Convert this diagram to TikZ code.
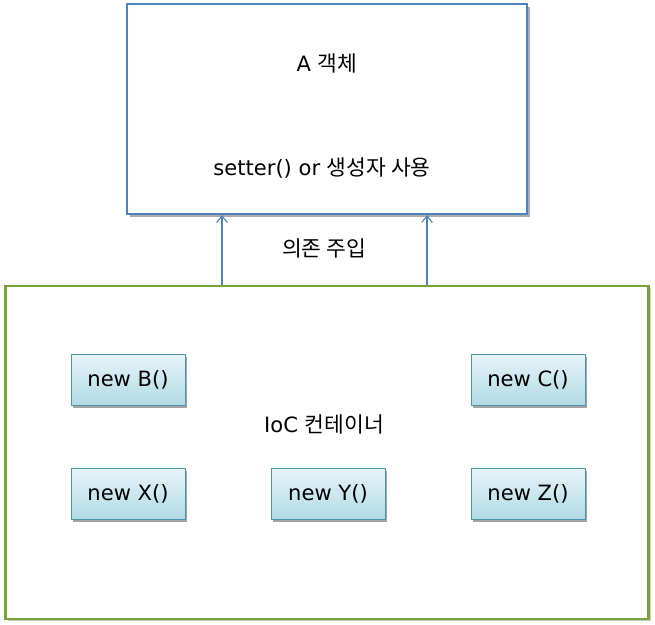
\documentclass[tikz,border=0pt]{standalone}
\usepackage{fontspec}
\setmainfont{DejaVu Sans}
\newfontfamily\kr[Scale=1.02]{Noto Sans CJK KR}
\usetikzlibrary{arrows.meta,positioning,shadows}
\definecolor{objblue}{RGB}{79,129,189}
\definecolor{iocgreen}{RGB}{119,163,58}
\definecolor{beanedge}{RGB}{72,150,168}
\definecolor{beantop}{RGB}{230,244,248}
\definecolor{beanbot}{RGB}{178,219,229}

\begin{document}
\begin{tikzpicture}[
  x=0.75pt, y=-0.75pt,
  every node/.style={font=\fontsize{15.8}{19}\selectfont},
  bean/.style={
    draw=beanedge,
    top color=beantop,
    bottom color=beanbot,
    minimum width=85.5pt,
    minimum height=38.25pt,
    drop shadow={shadow xshift=1.5pt, shadow yshift=-2pt, fill=black!60, opacity=0.6}
  },
  inject/.style={-{Straight Barb[length=5pt,width=8pt]}, draw=objblue, line width=0.8pt}
]
\useasboundingbox (0,0) rectangle (655,624);

% A 객체
\node[
  draw=objblue,
  line width=1.6pt,
  fill=white,
  minimum width=300pt,
  minimum height=157.5pt,
  drop shadow={shadow xshift=2pt, shadow yshift=-2.5pt, fill=black!55, opacity=0.6}
] (aobj) at (327,109) {};
\node (atitle) at (327,63) {A {\kr 객체}};
\node (asetter) at (322,168) {setter() or {\kr 생성자 사용}};

% IoC 컨테이너
\node[
  draw=iocgreen,
  line width=1.8pt,
  fill=white,
  minimum width=482.25pt,
  minimum height=249.75pt,
  below=52.5pt of aobj,
  drop shadow={shadow xshift=1.5pt, shadow yshift=-1.5pt, fill=black!40, opacity=0.5}
] (ioc) {};
\node (ioctitle) at (324,424) {IoC {\kr 컨테이너}};

% 빈 객체
\node[bean] (newb) at (128,379.5) {new B()};
\node[bean] (newc) at (528,379.5) {new C()};
\node[bean] (newx) at (128,493.5) {new X()};
\node[bean] (newy) at (328,493.5) {new Y()};
\node[bean] (newz) at (528,493.5) {new Z()};

% 의존 주입
\coordinate (injl) at (222,0);
\coordinate (injr) at (427,0);
\draw[inject] (ioc.north -| injl) -- (aobj.south -| injl);
\draw[inject] (ioc.north -| injr) -- (aobj.south -| injr);
\node (injlabel) at (324,248) {\kr 의존 주입};

\end{tikzpicture}
\end{document}
